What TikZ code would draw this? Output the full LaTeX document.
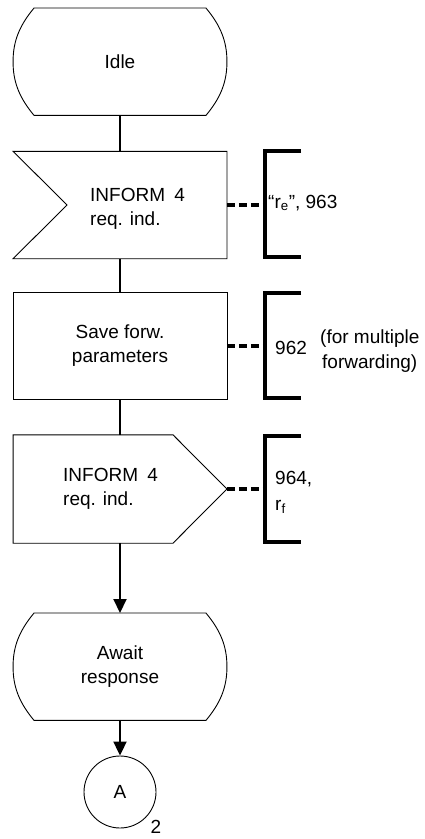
\documentclass[tikz,border=0pt]{standalone}
\usepackage{fontspec}
\setmainfont{Liberation Sans}
\usetikzlibrary{calc,arrows.meta}
\newcommand\sdlstate[1]{%
  \draw[outline] ($(#1.north west)+(21,0)$) -- ($(#1.north east)+(-21,0)$)
    .. controls ($(#1.north east)+(-6,18)$) and ($(#1.east)+(0,-20)$) .. (#1.east)
    .. controls ($(#1.east)+(0,20)$) and ($(#1.south east)+(-6,-18)$) .. ($(#1.south east)+(-21,0)$)
    -- ($(#1.south west)+(21,0)$)
    .. controls ($(#1.south west)+(6,-18)$) and ($(#1.west)+(0,20)$) .. (#1.west)
    .. controls ($(#1.west)+(0,-20)$) and ($(#1.north west)+(6,18)$) .. ($(#1.north west)+(21,0)$)
    -- cycle;}
\begin{document}
\begin{tikzpicture}[x=1pt,y=-1pt,
  every node/.style={font=\fontsize{19}{24}\selectfont, inner sep=0pt},
  geom/.style={minimum width=213.5pt, minimum height=#1, inner sep=0pt, align=center},
  outline/.style={draw=black, line width=0.9pt, line join=miter},
  flow/.style={draw=black, line width=2pt},
  arr/.style={flow, -{Triangle[length=14pt,width=13pt]}},
  commentline/.style={draw=black, line width=4pt, dash pattern=on 8pt off 4pt},
  bracketline/.style={draw=black, line width=4pt, line join=miter},
  lbl/.style={anchor=base west}
]
\useasboundingbox[fill=white] (0,0) rectangle (424,839);

% flow symbols
\node[geom=107pt] (idle) at (120,61.7) {Idle};
\node[geom=107pt] (inp) at (120,205) {};
\node[lbl] (inpA) at (90,201.7) {INFORM\hspace{4pt} 4};
\node[lbl] (inpB) at (90,225) {req. ind.};
\node[geom=107pt] (task) at (120,346) {Save forw.\\parameters};
\node[geom=108pt] (out) at (120,489) {};
\node[lbl] (outA) at (63,481.7) {INFORM\hspace{4pt} 4};
\node[lbl] (outB) at (63,505) {req. ind.};
\node[geom=107pt] (await) at (120,666.7) {Await\\response};
\node[circle, draw=black, line width=0.9pt, minimum size=72pt] (conn) at (120,792) {A};
\node (pg) at (156,827) {2};

% outlines
\sdlstate{idle}
\sdlstate{await}
\draw[outline] (inp.north west) -- (inp.north east) -- (inp.south east) -- (inp.south west) -- ($(inp.west)+(54,0)$) -- cycle;
\draw[outline] (task.north west) rectangle (task.south east);
\draw[outline] (out.north west) -- ($(out.north east)+(-54,0)$) -- (out.east) -- ($(out.south east)+(-54,0)$) -- (out.south west) -- cycle;

% connectors
\draw[flow] (idle.south) -- (inp.north);
\draw[flow] (inp.south) -- (task.north);
\draw[flow] (task.south) -- (out.north);
\draw[arr] (out.south) -- (await.north);
\draw[arr] (await.south) -- (conn.north);

% comments
\coordinate (b1) at (264.5,205);
\coordinate (b2) at (264.5,346);
\coordinate (b3) at (264.5,489);
\draw[commentline] (inp.east) -- (b1);
\draw[commentline] (task.east) -- (b2);
\draw[commentline] (out.east) -- (b3);
\draw[bracketline] (301,151) -- (264.5,151) -- (264.5,256.7) -- (301,256.7);
\draw[bracketline] (301,293.3) -- (264.5,293.3) -- (264.5,398.3) -- (301,398.3);
\draw[bracketline] (301,435.7) -- (264.5,435.7) -- (264.5,541.7) -- (301,541.7);

\node[lbl] (c1) at (268,208.3) {“r\textsubscript{e}”, 963};
\node[lbl] (c2) at (275,354) {962};
\node[lbl] (c2a) at (320,343) {(for multiple};
\node[lbl] (c2b) at (322,368) {forwarding)};
\node[lbl] (c3a) at (275,484) {964,};
\node[lbl] (c3b) at (275,510) {r\textsubscript{f}};
\end{tikzpicture}
\end{document}
